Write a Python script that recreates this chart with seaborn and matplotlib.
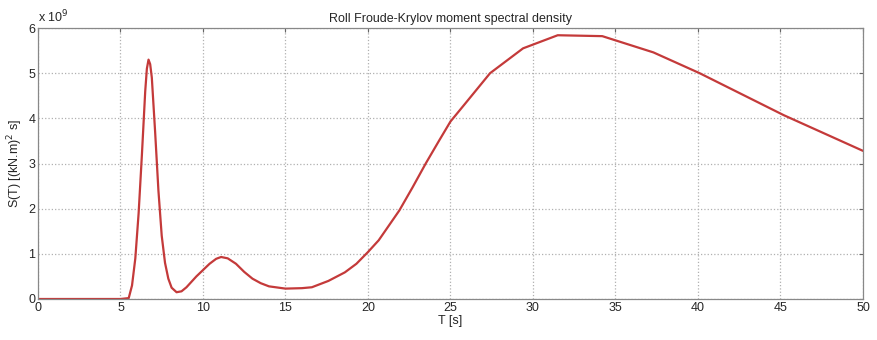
import matplotlib
matplotlib.use("Agg")
import matplotlib.pyplot as plt
import seaborn as sns
import pandas as pd

# values (T in s, S in 1e9 (kN.m)^2 s)
period = [0, 5.0, 5.5, 5.7, 5.9, 6.1, 6.3, 6.5, 6.6, 6.7, 6.8, 6.9, 7.1, 7.3,
          7.5, 7.7, 7.9, 8.1, 8.4, 8.7, 9.0, 9.3, 9.6, 10.0, 10.4, 10.8, 11.1,
          11.5, 12.0, 12.5, 13.0, 13.5, 14.0, 15.0, 16.0, 16.6, 17.6, 18.6,
          19.3, 20.0, 20.65, 21.9, 22.7, 23.5, 24.3, 25.0, 25.9, 27.4, 29.4,
          31.5, 34.2, 37.3, 40.1, 45.2, 50.0]
spectrum = [0, 0, 0.02, 0.3, 0.9, 1.9, 3.2, 4.6, 5.1, 5.3, 5.2, 4.9, 3.7, 2.4,
            1.4, 0.8, 0.45, 0.25, 0.15, 0.17, 0.26, 0.38, 0.5, 0.64, 0.78, 0.89, 0.93,
            0.9, 0.78, 0.6, 0.45, 0.35, 0.28, 0.23, 0.24, 0.26, 0.4, 0.59,
            0.78, 1.04, 1.3, 1.96, 2.47, 3.0, 3.5, 3.93, 4.33, 5.0, 5.55,
            5.84, 5.82, 5.46, 5.0, 4.07, 3.28]

df = pd.DataFrame({"T": period, "S": [v * 1e9 for v in spectrum]})

sns.set_style("white")
plt.rcParams['font.family'] = ['Liberation Sans', 'DejaVu Sans']

fig = plt.figure(figsize=(8.77, 3.4), dpi=100)
ax = fig.add_axes([0.0433, 0.1206, 0.9407, 0.797])

sns.lineplot(data=df, x="T", y="S", ax=ax, color="#c43a3a", linewidth=1.6)

ax.set_xlim(0, 50)
ax.set_ylim(0, 6e9)
ax.set_xticks(range(0, 51, 5))
ax.set_yticks([i * 1e9 for i in range(7)])
ax.set_yticklabels([str(i) for i in range(7)])
ax.text(0.0, 1.01, r"x 10$^9$", transform=ax.transAxes, fontsize=9, ha="left", va="bottom")

ax.grid(True, color="#b0b0b0", linestyle=":", linewidth=0.9)
for s in ax.spines.values():
    s.set_color("#888888")
    s.set_linewidth(0.9)
ax.tick_params(axis="both", labelsize=9, length=3, direction="in", color="#666666", pad=2,
               top=True, right=True)

ax.set_title("Roll Froude-Krylov moment spectral density", fontsize=9, pad=4)
ax.set_xlabel("T [s]", fontsize=9, labelpad=1)
ax.set_ylabel(r"S(T) [(kN.m)$^2$ s]", fontsize=9, labelpad=2)

fig.savefig("out.png", dpi=100)
